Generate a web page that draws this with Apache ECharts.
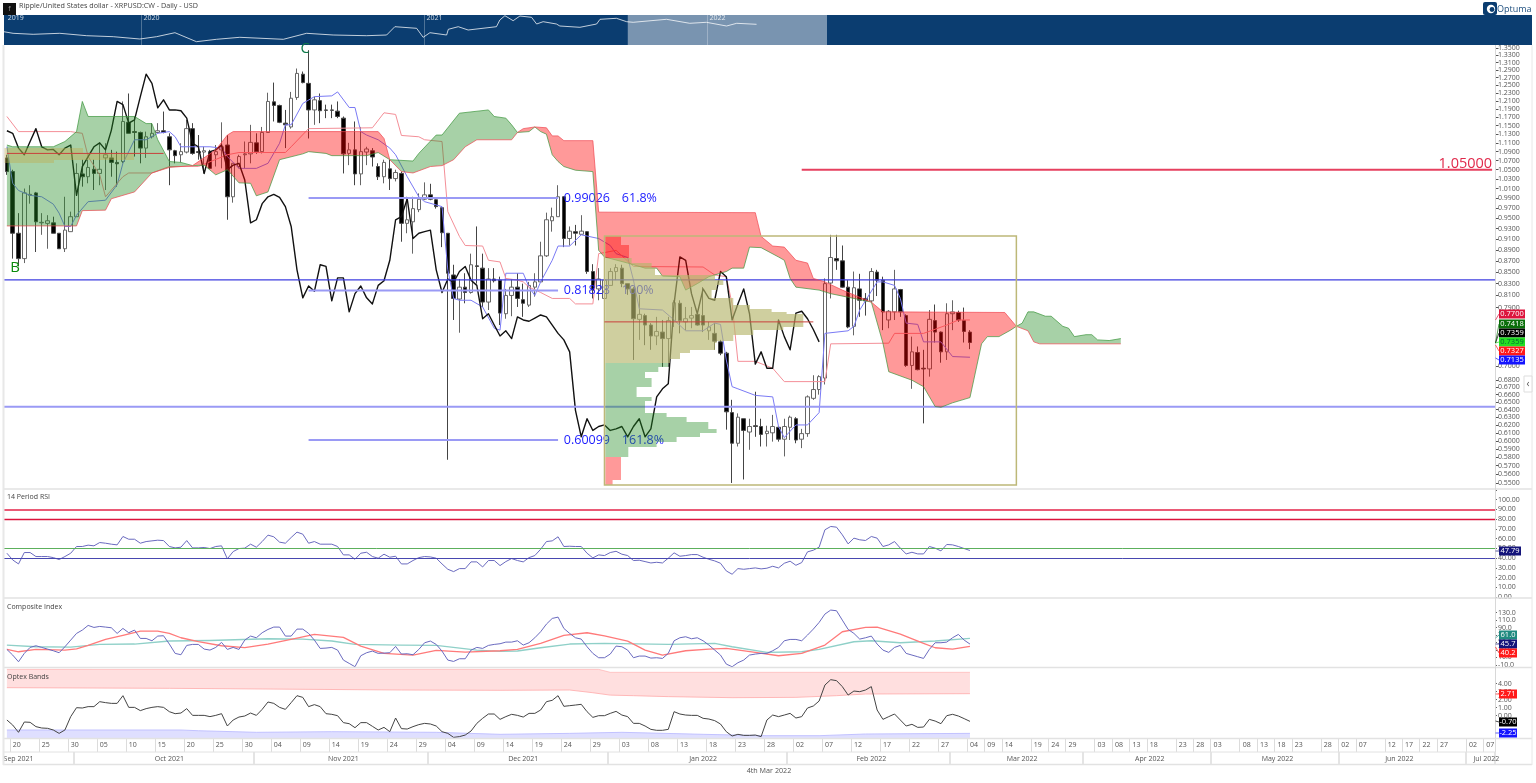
<!DOCTYPE html>
<html><head><meta charset="utf-8">
<style>html,body{margin:0;padding:0;background:#fff}#c{width:1536px;height:783px}</style>
<script src="https://cdn.jsdelivr.net/npm/echarts@6/dist/echarts.min.js"></script>
</head><body><div id="c"></div>
<script>
// ---------- day axis ----------
const barCount = 257;
const dayTickIdx = [1,6,11,16,21,26,31,36,41,46,51,56,61,66,71,76,81,86,91,96,101,106,111,116,121,126,131,136,141,146,151,156,161,166,169,172,177,180,183,188,191,194,197,202,205,208,213,216,219,222,227,230,233,238,241,244,247,252,255];
const dayTickLabels = ['20','25','30','05','10','15','20','25','30','04','09','14','19','24','29','04','09','14','19','24','29','03','08','13','18','23','28','02','07','12','17','22','27','04','09','14','19','24','29','03','08','13','18','23','28','03','08','13','18','23','28','02','07','12','17','22','27','02','07'];
const monthStartIdx = [12,43,73,104,135,163,186,208,230,252];
const monthLabelIdx = [2,28,58,89,120,149,175,197,219,240,255];
const monthLabels = ['Sep 2021','Oct 2021','Nov 2021','Dec 2021','Jan 2022','Feb 2022','Mar 2022','Apr 2022','May 2022','Jun 2022','Jul 2022'];

// ---------- candles: open, close, low, high ----------
const candles = [
[1.076,1.046,1.039,1.083],[1.046,.921,.874,1.050],[.921,.874,.860,.960],[.874,1.001,.866,1.010],[.996,.998,.979,1.017],[1.001,.943,.886,1.003],[.941,.942,.918,.960],[.940,.945,.892,.956],[.941,.921,.921,.953],[.921,.892,.892,.921],
[.892,.927,.886,.993],[.924,.953,.924,.963],[.953,1.042,.953,1.064],[1.041,1.035,1.014,1.072],[1.035,1.055,1.021,1.072],[1.051,1.042,1.007,1.072],[1.042,1.051,1.017,1.109],[1.076,1.083,1.007,1.109],[1.076,1.066,1.035,1.094],[1.066,1.063,1.014,1.090],
[1.068,1.160,1.064,1.209],[1.158,1.132,1.132,1.229],[1.136,1.134,1.079,1.172],[1.134,1.098,1.064,1.136],[1.098,1.124,1.076,1.136],[1.124,1.132,1.120,1.156],[1.134,1.138,1.132,1.156],[1.138,1.134,1.132,1.184],[1.124,1.094,1.017,1.132],[1.092,1.081,1.064,1.094],
[1.083,1.090,1.066,1.109],[1.089,1.143,1.086,1.164],[1.143,1.086,1.083,1.156],[1.090,1.088,1.072,1.128],[1.089,1.092,1.042,1.101],[1.090,1.053,1.053,1.094],[1.083,1.090,1.057,1.105],[1.094,1.101,1.053,1.158],[1.105,.993,.947,1.128],[.993,1.064,.981,1.064],
[1.057,1.079,1.053,1.083],[1.083,1.085,1.053,1.113],[1.085,1.111,1.064,1.152],[1.110,1.090,1.085,1.132],[1.090,1.134,1.086,1.147],[1.134,1.209,1.134,1.231],[1.208,1.199,1.160,1.257],[1.199,1.158,1.156,1.201],[1.156,1.152,1.098,1.188],[1.147,1.217,1.143,1.233],
[1.219,1.281,1.213,1.294],[1.279,1.257,1.255,1.286],[1.255,1.188,1.120,1.344],[1.188,1.213,1.152,1.221],[1.211,1.186,1.156,1.229],[1.188,1.187,1.168,1.201],[1.188,1.187,1.168,1.201],[1.185,1.172,1.168,1.209],[1.168,1.085,1.042,1.172],[1.086,1.094,1.060,1.110],
[1.094,1.041,1.017,1.160],[1.041,1.090,1.017,1.147],[1.089,1.096,1.060,1.101],[1.092,1.078,1.057,1.098],[1.057,1.035,1.028,1.064],[1.035,1.066,1.021,1.072],[1.052,1.031,1.007,1.072],[1.031,1.044,1.025,1.050],[1.042,.940,.905,1.046],[.940,.947,.921,.993],
[.943,.969,.883,.993],[.967,.988,.962,1.000],[.988,.997,.986,1.023],[.997,.988,.986,1.020],[.987,.973,.969,.990],[.971,.922,.895,.973],[.921,.848,.577,.921],[.845,.805,.770,.863],[.804,.824,.750,.838],[.824,.815,.797,.848],
[.815,.863,.813,.883],[.861,.860,.830,.934],[.857,.799,.791,.883],[.799,.838,.786,.857],[.838,.835,.832,.857],[.836,.781,.762,.842],[.780,.810,.772,.821],[.810,.824,.776,.838],[.824,.805,.791,.848],[.803,.797,.775,.830],
[.794,.827,.791,.833],[.824,.833,.808,.848],[.833,.879,.833,.905],[.879,.947,.877,.961],[.945,.953,.924,.971],[.953,.993,.953,1.017],[.993,.911,.895,.994],[.911,.925,.898,.934],[.924,.921,.898,.937],[.919,.925,.918,.956],
[.924,.851,.847,.925],[.851,.819,.805,.864],[.821,.838,.802,.857],[.805,.836,.803,.854],[.827,.851,.827,.857],[.851,.858,.836,.864],[.857,.830,.824,.863],[.830,.821,.811,.830],[.821,.772,.709,.824],[.771,.779,.739,.811],
[.777,.762,.731,.780],[.762,.745,.724,.765],[.745,.752,.731,.775],[.751,.741,.699,.770],[.741,.769,.699,.775],[.769,.798,.759,.802],[.797,.769,.749,.802],[.767,.772,.754,.791],[.773,.777,.757,.791],[.779,.762,.761,.783],
[.777,.762,.751,.824],[.753,.759,.739,.767],[.749,.737,.724,.765],[.736,.719,.716,.739],[.719,.637,.614,.721],[.636,.597,.550,.653],[.597,.630,.593,.635],[.628,.613,.554,.628],[.611,.618,.589,.628],[.619,.618,.605,.664],
[.618,.608,.593,.628],[.609,.612,.593,.619],[.610,.618,.599,.633],[.617,.602,.599,.618],[.602,.618,.581,.628],[.617,.630,.601,.632],[.628,.601,.597,.630],[.602,.609,.591,.615],[.609,.657,.605,.659],[.655,.667,.653,.687],
[.667,.685,.660,.687],[.683,.830,.674,.839],[.831,.876,.805,.918],[.874,.870,.854,.918],[.870,.824,.823,.898],[.824,.759,.757,.836],[.760,.823,.746,.851],[.821,.802,.775,.847],[.805,.801,.777,.814],[.801,.851,.799,.857],
[.850,.836,.809,.854],[.836,.783,.754,.842],[.770,.784,.757,.786],[.783,.821,.770,.854],[.820,.783,.775,.821],[.777,.701,.699,.779],[.701,.721,.668,.744],[.720,.695,.694,.729],[.697,.696,.622,.724],[.696,.771,.685,.786],
[.769,.751,.735,.795],[.751,.721,.705,.752],[.721,.780,.709,.797],[.780,.783,.754,.802],[.782,.770,.767,.785],[.769,.752,.735,.790],[.751,.735,.725,.754]
];

// ---------- ichimoku ----------
const chikou = [1.138,1.132,1.098,1.083,1.113,1.143,1.101,1.094,1.095,1.083,
1.098,1.105,.996,1.057,1.079,1.101,1.110,1.094,1.139,1.209,
1.201,1.156,1.164,1.221,1.279,1.255,1.193,1.213,1.188,1.188,
1.186,1.168,1.109,1.101,1.042,1.090,1.094,1.105,1.050,1.060,
1.064,1.028,.941,.947,.979,.993,.998,.992,.973,.934,
.854,.806,.826,.817,.863,.860,.801,.840,.840,.783,
.813,.826,.806,.796,.827,.835,.871,.947,.953,.989,
.911,.921,.924,.927,.854,.815,.838,.832,.851,.860,
.836,.827,.772,.780,.762,.745,.753,.741,.775,.770,
.768,.773,.778,.775,.762,.749,.739,.721,.639,.605,
.628,.613,.618,.620,.613,.615,.618,.605,.618,.628,
.605,.615,.657,.668,.675,.796,.877,.871,.813,.780,
.821,.805,.802,.851,.842,.770,.796,.821,.780,.703,
.721,.697,.697,.770,.744,.724,.781,.784,.772,.755,.736];
const tenkan = [[0,1.101],[1,1.021],[2,1.006],[4,.996],[6,.993],[8,.978],[9,.960],[10,.934],[11,.934],[12,.956],[14,.983],[17,.986],[19,1.018],[20,1.064],[22,1.117],[24,1.117],[26,1.132],[28,1.136],[29,1.124],[30,1.101],[35,1.101],[37,1.098],[38,1.079],[40,1.053],[43,1.053],[45,1.064],[47,1.109],[48,1.152],[49,1.152],[51,1.204],[53,1.221],[56,1.223],[57,1.233],[59,1.194],[60,1.194],[61,1.136],[62,1.128],[64,1.117],[66,1.098],[67,1.083],[69,1.035],[71,.993],[72,.983],[75,.973],[76,.854],[77,.805],[78,.802],[80,.802],[82,.791],[84,.757],[85,.754],[86,.848],[88,.848],[89,.848],[90,.824],[91,.810],[92,.833],[94,.871],[95,.897],[97,.897],[99,.918],[102,.911],[104,.898],[105,.883],[107,.876],[108,.836],[109,.788],[113,.786],[115,.770],[117,.753],[120,.753],[122,.765],[123,.763],[124,.709],[125,.671],[126,.668],[129,.659],[132,.657],[133,.618],[134,.604],[136,.620],[138,.620],[140,.636],[141,.749],[145,.753],[146,.760],[147,.786],[150,.833],[151,.833],[153,.827],[154,.805],[155,.765],[157,.763],[158,.736],[161,.736],[163,.714],[166,.713]];
const kijun = [[0,1.172],[2,1.136],[11,1.136],[13,1.132],[14,1.079],[16,1.039],[17,.993],[20,1.035],[21,1.043],[25,1.043],[28,1.057],[33,1.057],[38,1.083],[40,1.088],[48,1.088],[49,1.101],[52,1.143],[63,1.145],[65,1.181],[67,1.177],[68,1.127],[71,1.124],[72,1.117],[75,1.113],[76,.963],[78,.915],[79,.898],[82,.897],[83,.871],[85,.868],[86,.839],[88,.836],[89,.833],[90,.824],[92,.815],[94,.805],[97,.805],[98,.796],[101,.796],[102,.883],[105,.889],[108,.860],[120,.859],[122,.845],[124,.842],[125,.796],[126,.707],[129,.707],[132,.697],[134,.678],[141,.678],[142,.733],[152,.734],[153,.749],[158,.749],[162,.762],[164,.770],[166,.770]];
const spanA = [[0,1.105],[1,1.101],[8,1.101],[10,1.113],[12,1.136],[13,1.209],[14,1.172],[22,1.172],[24,1.155],[25,1.155],[26,1.117],[28,1.068],[30,1.066],[32,1.059],[34,1.060],[36,1.039],[38,1.050],[40,1.022],[42,1.021],[43,.995],[45,1.003],[47,1.072],[51,1.085],[52,1.090],[55,1.086],[56,1.081],[62,1.081],[64,1.088],[66,1.072],[70,1.069],[71,1.086],[74,1.128],[75,1.128],[78,1.180],[83,1.188],[84,1.172],[86,1.168],[87,1.152],[88,1.134],[90,1.136],[91,1.147],[92,1.136],[93,1.130],[94,1.083],[95,1.068],[96,1.057],[98,1.049],[101,1.046],[102,.889],[103,.877],[107,.866],[110,.857],[112,.857],[113,.843],[116,.842],[117,.819],[119,.830],[121,.842],[124,.851],[125,.857],[127,.857],[128,.895],[130,.894],[133,.877],[134,.871],[135,.839],[136,.824],[140,.819],[142,.813],[146,.805],[149,.799],[151,.734],[152,.692],[156,.680],[158,.671],[160,.644],[161,.643],[163,.649],[166,.656],[168,.733],[169,.744],[171,.744],[173,.754],[174,.760],[175,.765],[176,.783],[177,.783],[179,.776],[180,.776],[182,.760],[183,.757],[184,.744],[186,.747],[187,.747],[188,.739],[190,.738],[192,.741]];
const spanB = [[0,.935],[12,.935],[13,.965],[17,.966],[18,.989],[22,1.003],[25,1.043],[28,1.055],[32,1.059],[36,1.094],[38,1.128],[39,1.136],[64,1.136],[65,1.120],[66,1.072],[68,1.046],[70,1.043],[73,1.057],[75,1.059],[77,1.072],[79,1.101],[81,1.117],[87,1.117],[88,1.134],[89,1.143],[91,1.147],[93,1.145],[94,1.126],[95,1.126],[96,1.115],[101,1.115],[102,.962],[129,.961],[130,.915],[132,.897],[134,.895],[136,.871],[138,.866],[139,.839],[141,.833],[144,.819],[149,.799],[151,.783],[172,.782],[174,.760],[176,.753],[177,.736],[178,.733],[192,.733]];
const cloudBreaks = [0,32,66,88,174,192];
const cloudColors = ['rgba(34,139,34,.40)','rgba(255,0,0,.40)','rgba(34,139,34,.40)','rgba(255,0,0,.40)','rgba(34,139,34,.40)'];

// ---------- levels and fibonacci ----------
const blueLevelThin = .8365, blueLevelThick = .6438;
const targetLevel = [[137,1.05],[256,1.05]];
const fibStart = 52, fibEnd = 95;
const fibPrices = [.99026,.81828,.60099];
const fibValueText = ['0.99026','0.81828','0.60099'];
const fibPctText = ['61.8%','100%','161.8%'];
const fibValueIdx = 96, fibPctIdx = 106;

// ---------- volume profile ----------
const profileBoxIdx = [103,174], profileBoxPrice = [.5477,.916];
const profileEdges = [.916,.898,.876,.866,.857,.845,.836,.827,.819,.805,.794,.788,.783,.779,.775,.767,.759,.754,.746,.738,.734,.724,.719,.711,.704,.699,.692,.683,.670,.657,.651,.635,.630,.624,.615,.610,.605,.599,.593,.580,.553,.548];
const profileVol = [15.7,23.7,26.3,46.3,49.7,109.7,118,111.3,106.3,128,144.7,166.3,181.3,198,198,198,178,148,128,111.3,109.7,84.7,74.7,64.7,63,53,39.7,46.3,31.3,46.3,39.7,61.3,81.3,103,111.3,94.7,71.3,51.3,23,15.7,7.3];
const profileKind = ['r','r','o','o','o','o','o','o','o','o','o','o','o','o','o','o','o','o','o','o','o','o','o','o','g','g','g','g','g','g','g','g','g','g','g','g','g','g','g','r','r'];
const pocLine = [[103,.767],[139,.767]];
const oldProfileEdges = [1.098,1.088,1.079,1.072,1.064];
const oldProfileVol = [79,130,130,50];
const oldPocLine = [[0,1.086],[27,1.086]];

// ---------- axes ----------
const mainTicks = [1.35,1.33,1.31,1.29,1.27,1.25,1.23,1.21,1.19,1.17,1.15,1.13,1.11,1.09,1.07,1.05,1.03,1.01,.99,.97,.95,.93,.91,.89,.87,.85,.83,.81,.79,.70,.68,.67,.66,.65,.64,.63,.62,.61,.60,.59,.58,.57,.56,.55];
const ciTicks = [130,110,90,70,50,30,10,-10];
const optexTicks = [4,3,2,1,0];

// ---------- RSI ----------
const rsi = [45,38.1,34,45.7,45.7,41.6,41.6,41.6,40.5,38.5,
41.6,45,51.9,51.9,53.3,52.6,56,55.3,54.3,53.6,
62.2,59.4,59.4,55.3,57,57.7,58.4,58,51.9,50.5,
51.2,58,50.5,50.5,50.9,49.8,51.9,52.6,39.2,46.7,
49.8,50.2,54.3,51.2,57,63.6,61.9,56.4,55.3,61.2,
66.7,64.6,55.3,57,54.3,54.3,54.3,51.9,43.3,43.3,
38.8,45,46,41.6,39.9,44,40.9,41.9,34,34,
37.5,40.5,41.6,41.2,39.9,34,28.5,26.1,29.2,29.2,
36.1,36.1,30.9,37.5,37.5,32.3,36.4,39.5,37.5,36.1,
40.5,42.6,49.1,57,57.7,61.9,51.9,52.2,51.9,51.9,
45,40.2,43.3,42.6,45.7,47,44,42.6,37.5,37.8,
36.4,35,35.7,35,39.9,45.4,41.9,42.6,43.6,43.6,
40.9,38.8,37.1,34.7,26.8,23.4,29.2,28.5,29.2,29.9,
28.9,29.6,31.6,29.9,34.7,36.8,32.6,35.4,46.4,48.1,
51.2,69.1,72.5,71.8,63.9,54.6,60.5,58.8,58.1,62.2,
60.5,51.9,53.6,57,50.2,44.3,46,44.3,44.3,51.9,
50.2,47.4,54,53.6,51.9,49.8,47.8];
const rsiLevels = [90,80,50,40];
const rsiLevelColors = ['#ea5a76','#dc143c','#5cb05c','#4848b0'];
const rsiLevelWidths = [2,1.3,1,1];

// ---------- Composite Index ----------
const composite = [31.3,16.1,-1.9,20.6,36.7,41.2,36.7,32.2,27.7,22.4,
38.5,56.4,74.4,83.3,95.9,90.5,93.2,91.4,89.6,74.4,
87.8,76.2,83.3,60.9,60.9,54.6,67.2,68.1,45.7,20.6,
17,42.1,44.8,44.8,32.2,29.5,36.7,50.2,31.3,36.7,
31.3,56.4,67.2,62.7,76.2,85.1,91.4,91.4,67.2,67.2,
86,86,74.4,56.4,34,34.9,36.7,29.5,2.6,-6.3,
-15.3,14.3,22.4,26.8,20.6,21.5,22.4,39.4,18.8,19.7,
17,31.3,49.3,53.8,44.8,26.8,2.6,-1,6.2,6.2,
29.5,36.7,34,42.1,44.8,46.6,51,51,54.6,43,
49.3,62.7,78.9,99.5,114.7,118.3,87.8,74.4,62.7,59.1,
38.5,20.6,8.9,8.9,18.8,40.3,38.5,29.5,8.9,13.4,
13.4,8,8.9,7.1,20.6,54.6,62.7,65.4,60,62.7,
54.6,43,29.5,16.1,-8.1,-15.3,-4.5,2.6,16.1,18.8,
20.6,20.6,27.7,36.7,54.6,58.2,58.2,54.6,69.9,86,
104,126.4,137.2,135.4,110.2,85.1,74.4,59.1,62.7,67.2,
45.7,29.5,23.3,36.7,42.1,20.6,16.1,11.6,7.1,31.3,
49.3,49.3,51,62.7,71.7,56.4,45.7];
const compositeFast = [[0,31.3],[2,25],[5,31.3],[10,29.5],[12,33],[14,42],[17,58.2],[20,69],[23,80.6],[26,80.6],[28,74.4],[30,62.7],[33,52],[37,41.2],[41,36],[45,45.7],[50,62],[53,71.7],[58,63.6],[61,40.3],[65,20.6],[70,16],[74,28.6],[79,24],[85,27.7],[88,31.3],[92,47.5],[96,69],[100,76.2],[103,68],[107,53.8],[110,29.5],[113,16],[117,27.7],[121,32.2],[124,34],[129,23.3],[133,14.3],[137,20.6],[141,43],[144,78.9],[148,90.5],[150,91.4],[154,72.6],[158,47.5],[160,35.8],[163,32.2],[166,39.4]];
const compositeSlow = [[0,43],[5,38.5],[11,37.6],[16,44.8],[22,45.7],[28,53.8],[35,55.5],[45,60],[51,59.1],[56,53.8],[60,44.8],[68,43],[74,42.1],[81,29.5],[85,26],[88,26.9],[92,35.8],[97,45.7],[103,47.5],[114,44.8],[122,47.5],[125,38.5],[131,23.3],[137,25],[140,31.3],[146,52],[149,54.6],[154,49.3],[160,53.8],[166,61]];

// ---------- Optex ----------
const optex = [-.56,-1.19,-2.1,-.81,-.85,-1.39,-1.56,-1.6,-1.81,-2.23,
-1.81,-.14,.98,.94,1.11,1.11,1.73,1.61,1.52,1.52,
2.48,1.02,1.02,.61,.86,1.02,1.11,1.02,.48,.23,
.31,.86,.02,.02,.02,-.14,.02,.23,-1.31,-.56,
-.19,-.06,.31,.02,.77,1.69,1.52,1.02,.77,1.61,
2.48,2.27,1.11,1.36,1.11,.23,.15,-.02,-.89,-1.02,
-1.52,-.89,-.89,-1.35,-1.81,-1.48,-2.02,-.31,-1.64,-1.69,
-1.39,-1.14,-.98,-1.06,-1.31,-2.02,-2.23,-2.73,-2.64,-2.44,
-1.94,-.98,-.35,.19,.19,-.48,-.14,.15,.02,-.19,
.27,.27,.69,1.73,1.9,2.48,1.15,1.23,1.31,1.4,
.48,-.23,-.02,-.02,.27,.52,.06,-.14,-.98,-.98,
-1.31,-1.73,-1.85,-1.85,-1.73,.48,.19,.06,.02,.02,
-.35,-.44,-.64,-1.06,-2.02,-2.56,-2.35,-2.48,-2.48,-2.44,
-2.64,-.56,.06,-.14,.06,.27,-.31,-.14,.94,1.19,
1.81,3.81,4.48,4.36,3.61,2.56,3.06,2.98,3.19,3.61,
.69,-.48,-.14,.19,-.56,-1.31,-1.1,-1.48,-1.44,-.48,
-.69,-1.02,-.02,.15,-.06,-.39,-.73];
const upperBandTop = [[0,5.77],[102,5.77],[104,5.4],[166,5.4]];
const upperBandBottom = [[0,3.48],[28,3.40],[68,3.19],[85,3.15],[97,3.19],[101,2.85],[104,2.55],[108,2.48],[114,2.36],[125,2.23],[136,2.27],[143,2.48],[148,2.69],[166,2.73]];
const lowerBandTop = [[0,-1.81],[30,-1.81],[33,-1.9],[43,-2.1],[56,-2.02],[74,-2.1],[85,-2.35],[97,-2.23],[106,-2.1],[120,-2.35],[131,-2.52],[140,-2.52],[148,-2.31],[166,-2.23]];
const lowerBandBottom = [[0,-2.81],[166,-2.81]];

// ---------- overview strip ----------
const overviewYear = [2019.513,2019.546,2019.617,2019.711,2019.806,2019.900,2019.994,2020.053,2020.118,2020.194,2020.265,2020.347,2020.501,2020.583,2020.677,2020.795,2020.866,2020.895,2020.972,2020.995,2021.019,2021.078,2021.084,2021.119,2021.154,2021.254,2021.266,2021.284,2021.313,2021.337,2021.378,2021.396,2021.419,2021.466,2021.478,2021.549,2021.608,2021.620,2021.678,2021.714,2021.737,2021.855,2021.937,2021.996,2022.067,2022.103,2022.173];
const overviewLevel = [13.3,11.7,10.7,11.7,9.3,8.3,6,8.3,12.3,3.3,5.7,7.7,5.7,11.7,10,9.3,10,18.3,16.7,7.7,12.3,10,15.7,18.3,15,18.3,25,29.3,24.3,29,27.7,21,23.3,21,19,17.7,21,25.7,26.7,23.3,22.7,25.7,21.7,22.7,19,21.7,20.7];
const overviewWindow = [2021.718,2022.422];
const overviewYears = [2020,2021,2022];
const overviewYearLabels = [[2019.52,'2019'],[2020,'2020'],[2021,'2021'],[2022,'2022']];

// ---------- header, badges ----------
const titleText = 'Ripple/United States dollar - XRPUSD:CW - Daily - USD';
const footerText = '4th Mar 2022';
const priceBadges = [['0.7700','#dc143c','#fff',314,320],['0.7418','#0a6e0a','#fff',324,343],['0.7359','#000','#fff',333,343],['0.7359','#22e022','#063',342,343],['0.7327','#ff1a1a','#fff',351,345],['0.7135','#1414ff','#fff',360,358]];
const rsiBadges = [['47.79','#14147a','#fff',551,551]];
const ciBadges = [['61.0','#1f8a80','#fff',635,638],['45.7','#14147a','#fff',644,644],['40.2','#ff1a1a','#fff',653,647]];
const optexBadges = [['2.71','#ff1a1a','#fff',694,694],['-0.70','#000','#fff',722,721],['-2.25','#1414ff','#fff',733,733]];

// ================= build =================
const categories = Array.from({length:barCount},(_,i)=>{const k=dayTickIdx.indexOf(i);return k<0?'':dayTickLabels[k];});
const monthCats = Array.from({length:barCount},(_,i)=>{const k=monthLabelIdx.indexOf(i);return k<0?'':monthLabels[k];});
const idxPairs = a=>a.map((v,i)=>[i,v]);
const L=4,R=41;
const FONT='"Open Sans"';
const grids=[
 {left:L,width:1528,top:15,height:30,show:true,backgroundColor:'#0b3d70',borderWidth:0},
 {left:L,right:R,top:45,height:444},
 {left:L,right:R,top:490,height:107},
 {left:L,right:R,top:599,height:68},
 {left:L,right:R,top:668,height:70},
 {left:L,right:R,top:752,height:12}
];
const hiddenCat=(g)=>({type:'category',gridIndex:g,data:categories,boundaryGap:true,show:false,axisLine:{onZero:false}});
const xAxes=[
 {type:'value',gridIndex:0,min:2019.514,max:2024.913,show:false,axisLine:{onZero:false}},
 hiddenCat(1),
 {type:'value',gridIndex:1,min:-601.3,max:889.7,show:false,axisLine:{onZero:false}},
 hiddenCat(2),
 hiddenCat(3),
 {type:'category',gridIndex:4,data:categories,boundaryGap:true,position:'bottom',
  axisLine:{show:false,onZero:false},
  axisTick:{show:true,length:14,interval:(i,v)=>v!=='',lineStyle:{color:'#dcdcdc',width:1}},
  axisLabel:{show:true,interval:(i,v)=>v!=='',color:'#555',fontSize:7,fontFamily:FONT,margin:3,align:'left',hideOverlap:false}},
 {type:'category',gridIndex:5,data:monthCats,boundaryGap:true,position:'bottom',
  axisLine:{show:false,onZero:false},
  axisTick:{show:true,inside:true,length:12,interval:i=>monthStartIdx.includes(i),lineStyle:{color:'#dcdcdc',width:1.5}},
  axisLabel:{show:true,inside:true,interval:(i,v)=>v!=='',color:'#555',fontSize:7,fontFamily:FONT,margin:2,hideOverlap:false}}
];
const rightAxis=(g,o)=>Object.assign({gridIndex:g,position:'right',splitLine:{show:false},axisLine:{show:false,onZero:false},
  axisTick:{show:true,length:3,lineStyle:{color:'#666'}},
  axisLabel:{color:'#555',fontSize:7,fontFamily:FONT,margin:2,hideOverlap:false}},o);
const yAxes=[
 {type:'value',gridIndex:0,min:0,max:30,show:false,axisLine:{onZero:false}},
 rightAxis(1,{type:'log',logBase:10,min:.5432,max:1.3584,
   axisTick:{show:true,length:3.5,customValues:mainTicks,lineStyle:{color:'#555'}},
   axisLabel:{color:'#555',fontSize:7,fontFamily:FONT,margin:3,hideOverlap:false,customValues:mainTicks,formatter:v=>(+v).toFixed(4)}}),
 rightAxis(2,{type:'value',min:0,max:110,interval:10,axisLabel:{color:'#555',fontSize:7,fontFamily:FONT,margin:3,formatter:v=>v>100?'':v.toFixed(2)},axisTick:{show:true,length:2,lineStyle:{color:'#666'}}}),
 rightAxis(3,{type:'value',min:-16,max:167,
   axisTick:{show:true,length:2,customValues:ciTicks,lineStyle:{color:'#666'}},
   axisLabel:{color:'#555',fontSize:7,fontFamily:FONT,margin:3,customValues:ciTicks,formatter:v=>v.toFixed(1)}}),
 rightAxis(4,{type:'value',min:-2.81,max:5.94,
   axisTick:{show:true,length:2,customValues:optexTicks,lineStyle:{color:'#666'}},
   axisLabel:{color:'#555',fontSize:7,fontFamily:FONT,margin:3,customValues:optexTicks,formatter:v=>v.toFixed(2)}}),
 {type:'value',gridIndex:5,min:0,max:1,show:false,axisLine:{onZero:false}}
];
const line=(name,x,y,data,color,width,z)=>({type:'line',name,xAxisIndex:x,yAxisIndex:y,data,showSymbol:false,symbol:'none',smooth:false,silent:true,z:z||3,lineStyle:{color,width,join:'round'},animation:false});
const levelLine=(name,x,y,val,color,width,z)=>({type:'line',name,xAxisIndex:x,yAxisIndex:y,data:[],z:z||3,silent:true,
   markLine:{silent:true,symbol:'none',animation:false,label:{show:false},lineStyle:{color,width,type:'solid'},data:[{yAxis:val}]}});
const polygon=(name,x,y,top,bottom,fill,z)=>({type:'custom',name,xAxisIndex:x,yAxisIndex:y,coordinateSystem:'cartesian2d',clip:true,silent:true,z,animation:false,
   data:[[top[0][0],top[0][1]]],
   renderItem:(p,api)=>({type:'polygon',shape:{points:top.concat(bottom.slice().reverse()).map(q=>api.coord(q))},style:{fill}})});
const textMark=(name,idx,price,text,color,font,align,z,dx)=>({type:'custom',name,xAxisIndex:1,yAxisIndex:1,coordinateSystem:'cartesian2d',clip:false,silent:true,z:z||4,animation:false,
   data:[[idx,price]],
   renderItem:(p,api)=>{const c=api.coord([idx,price]);return {type:'text',style:{text,x:c[0]+(dx||0),y:c[1],fill:color,font,align:align||'left',verticalAlign:'middle'}};}});
const KIND={r:'rgba(255,0,0,.40)',o:'rgba(181,181,107,.65)',g:'rgba(34,139,34,.40)',f:'rgba(190,175,80,.42)'};

const series=[];
// overview
series.push({type:'line',xAxisIndex:0,yAxisIndex:0,data:overviewYear.map((y,i)=>[y,overviewLevel[i]]),showSymbol:false,silent:true,z:4,lineStyle:{color:'rgba(255,255,255,.75)',width:1},
  markArea:{silent:true,animation:false,itemStyle:{color:'rgba(255,255,255,.45)'},data:[[{xAxis:overviewWindow[0]},{xAxis:overviewWindow[1]}]]},
  markLine:{silent:true,animation:false,symbol:'none',label:{show:false},lineStyle:{color:'rgba(255,255,255,.28)',width:1,type:'solid'},data:overviewYears.map(y=>({xAxis:y}))}});
series.push({type:'custom',xAxisIndex:0,yAxisIndex:0,coordinateSystem:'cartesian2d',silent:true,z:5,data:overviewYearLabels.map(r=>[r[0],27]),
  renderItem:(p,api)=>{const c=api.coord([api.value(0),api.value(1)]);return {type:'text',style:{text:overviewYearLabels[p.dataIndex][1],x:c[0]+2,y:c[1],fill:'rgba(255,255,255,.8)',font:'7px '+FONT,verticalAlign:'middle'}};}});
// candles
series.push({type:'candlestick',xAxisIndex:1,yAxisIndex:1,data:candles,barWidth:4,silent:true,z:2,animation:false,
  itemStyle:{color:'#fff',color0:'#000',borderColor:'#666',borderColor0:'#444',borderWidth:1}});
// lines
series.push(line('Tenkan',1,1,tenkan,'#7a7af5',1));
series.push(line('Kijun',1,1,kijun,'#f48f98',1));
series.push(line('Chikou',1,1,idxPairs(chikou),'#111',1.4));
series.push(line('lvl1',2,1,[[-601.3,blueLevelThin],[889.7,blueLevelThin]],'#3e3ee0',1.1));
series.push(line('lvl2',2,1,[[-601.3,blueLevelThick],[889.7,blueLevelThick]],'#9a9af5',2));
series.push(line('Target',1,1,targetLevel,'#e6405f',2));
fibPrices.forEach((p,i)=>{
  series.push(line('Fib'+i,1,1,[[fibStart,p],[fibEnd,p]],'#9a9af5',2));
  series.push(textMark('FibV'+i,fibValueIdx,p,fibValueText[i],'#1c1cff','12.5px '+FONT,'left'));
  series.push(textMark('FibP'+i,fibPctIdx,p,fibPctText[i],'#1c1cff','12.5px '+FONT,'left'));
});
series.push(textMark('B',1,.858,'B','#0a8a0a','15px '+FONT,'center',4,2.5));
series.push(textMark('C',51,1.347,'C','#0f7a4a','15px '+FONT,'center',4,2.5));
series.push(textMark('T',256,1.062,'1.05000','#e0284a','14.5px '+FONT,'right'));
// cloud
for(let s=0;s<cloudBreaks.length-1;s++){
  const a=cloudBreaks[s],b=cloudBreaks[s+1];
  series.push(polygon('cloud'+s,1,1,spanA.filter(q=>q[0]>=a&&q[0]<=b),spanB.filter(q=>q[0]>=a&&q[0]<=b),cloudColors[s],5));
}
series.push(line('spanA',1,1,spanA,'rgba(60,150,60,.7)',1,5));
series.push(line('spanB',1,1,spanB,'rgba(240,70,80,.7)',1,5));
// profile
const rowSeries=(name,edges,vols,base,kind)=>({type:'custom',name,xAxisIndex:2,yAxisIndex:1,coordinateSystem:'cartesian2d',clip:true,silent:true,z:6,animation:false,
   data:vols.map((v,i)=>[v,edges[i+1],edges[i]]),
   renderItem:(p,api)=>{const a=api.coord([base,api.value(2)]),b=api.coord([base+api.value(0),api.value(1)]);
     const y0=Math.round(a[1]),y1=Math.round(b[1]);
     return {type:'rect',shape:{x:a[0],y:y0,width:b[0]-a[0],height:y1-y0},style:{fill:KIND[kind(p.dataIndex)]}};}});
series.push(rowSeries('profile',profileEdges,profileVol,0,i=>profileKind[i]));
series.push(rowSeries('oldProfile',oldProfileEdges,oldProfileVol,-601.3,()=>'f'));
series.push(line('poc',1,1,pocLine,'#c9403c',1,7));
series.push(line('oldPoc',1,1,oldPocLine,'#c9403c',1,7));
series.push({type:'custom',xAxisIndex:1,yAxisIndex:1,coordinateSystem:'cartesian2d',silent:true,z:7,animation:false,data:[[profileBoxIdx[0],profileBoxPrice[1]]],
  renderItem:(p,api)=>{const a=api.coord([profileBoxIdx[0],profileBoxPrice[1]]),b=api.coord([profileBoxIdx[1],profileBoxPrice[0]]);
    return {type:'rect',shape:{x:a[0],y:a[1],width:b[0]-a[0],height:b[1]-a[1]},style:{fill:'none',stroke:'#bdb878',lineWidth:1.5}};}});
// RSI
rsiLevels.forEach((v,i)=>series.push(levelLine('r'+i,3,2,v,rsiLevelColors[i],rsiLevelWidths[i])));
series.push(line('RSI',3,2,idxPairs(rsi),'#6a6abf',1,4));
// Composite
series.push(line('CI slow',4,3,compositeSlow,'#8fd0c8',1.4));
series.push(line('CI fast',4,3,compositeFast,'#ff7a7a',1.3));
series.push(line('CI',4,3,idxPairs(composite),'#6a6abf',1,4));
// Optex
series.push(polygon('upperBand',5,4,upperBandTop,upperBandBottom,'rgba(255,170,170,.38)',2));
series.push(polygon('lowerBand',5,4,lowerBandTop,lowerBandBottom,'rgba(170,170,255,.38)',2));
series.push(line('ubl',5,4,upperBandBottom,'rgba(255,170,170,.8)',1,2));
series.push(line('ubt',5,4,upperBandTop,'rgba(255,170,170,.6)',1,2));
series.push(line('lbt',5,4,lowerBandTop,'rgba(190,190,255,.9)',1,2));
series.push(line('Optex',5,4,idxPairs(optex),'#444',1,4));

// ---- graphics -----
const gfx=[];
const sep=(x1,y1,x2,y2,c,w)=>gfx.push({type:'line',silent:true,z:50,shape:{x1,y1,x2,y2},style:{stroke:c||'#e2e2e2',lineWidth:w||1.5}});
[489,598,667.5].forEach(y=>sep(3,y,1532,y));
sep(3,738.5,1532,738.5); sep(3,752,1495,752,'#e2e2e2',1); sep(3,764.5,1532,764.5);
sep(3.5,45,3.5,765,'#e8e8e8',2); sep(1495.5,45,1495.5,738,'#d8d8d8',1); sep(1532,45,1532,765,'#e8e8e8',1);
const txt=(x,y,text,font,fill,align)=>gfx.push({type:'text',silent:true,z:60,x,y,style:{text,font,fill,align:align||'left',verticalAlign:'middle'}});
txt(19,6,titleText,'7.2px '+FONT,'#444');
txt(7,497,'14 Period RSI','7px '+FONT,'#444');
txt(7,607,'Composite Index','7px '+FONT,'#444');
txt(7,677,'Optex Bands','7px '+FONT,'#444');
txt(769,771,footerText,'7.2px '+FONT,'#555','center');
gfx.push({type:'rect',silent:true,z:60,shape:{x:3,y:3,width:13,height:12},style:{fill:'#111'}});
txt(9.5,9,'f','7px '+FONT,'#999','center');
gfx.push({type:'rect',silent:true,z:60,shape:{x:1483,y:2,width:14,height:13,r:2},style:{fill:'#0b3d70'}});
gfx.push({type:'circle',silent:true,z:61,shape:{cx:1491,cy:9,r:4.2},style:{fill:'#fff'}});
gfx.push({type:'circle',silent:true,z:62,shape:{cx:1492,cy:9.5,r:2.4},style:{fill:'#0b3d70'}});
txt(1497,9,'Optuma','9px '+FONT,'#1d4e7e');
const badge=(r,w)=>{gfx.push({type:'line',silent:true,z:69,shape:{x1:1495.5,y1:r[4],x2:1499,y2:r[3]},style:{stroke:r[1],lineWidth:1,opacity:.7}});
  gfx.push({type:'rect',silent:true,z:70,shape:{x:1499,y:r[3]-4.5,width:w,height:9},style:{fill:r[1]}});
  txt(1499+w/2,r[3],r[0],'7.5px '+FONT,r[2],'center'); gfx[gfx.length-1].z=71;};
priceBadges.forEach(r=>badge(r,26)); rsiBadges.forEach(r=>badge(r,22)); ciBadges.forEach(r=>badge(r,18)); optexBadges.forEach(r=>badge(r,18));
gfx.push({type:'rect',silent:true,z:60,shape:{x:1524,y:376,width:8,height:16},style:{fill:'#fff',stroke:'#ddd',lineWidth:1}});
txt(1528,384,'‹','10px '+FONT,'#555','center'); gfx[gfx.length-1].z=61;

const chart=echarts.init(document.getElementById('c'),null,{renderer:'canvas'});
chart.setOption({animation:false,backgroundColor:'#fff',tooltip:{show:false},legend:{show:false},
  grid:grids,xAxis:xAxes,yAxis:yAxes,series,graphic:gfx});
</script></body></html>
